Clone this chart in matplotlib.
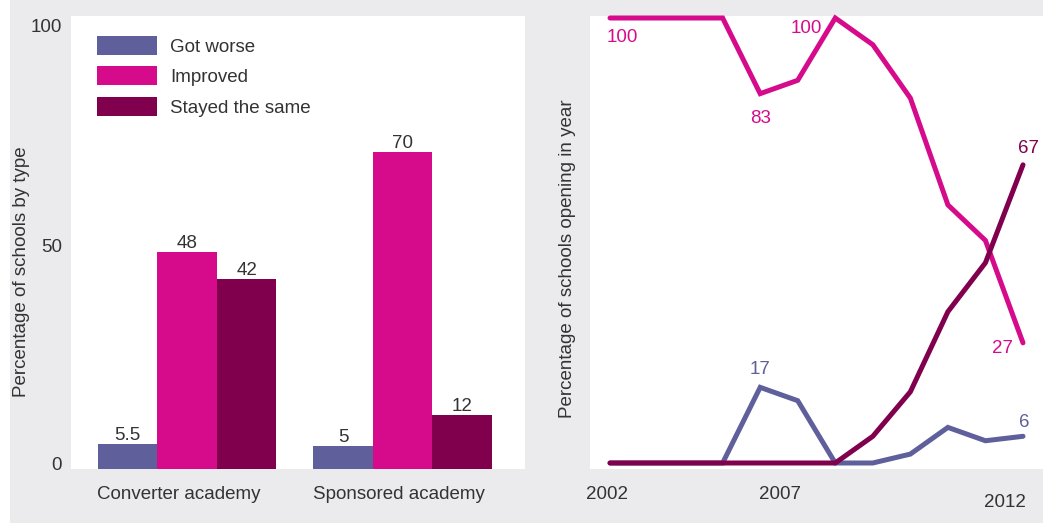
import matplotlib
matplotlib.use("Agg")
import matplotlib.pyplot as plt
from matplotlib.patches import Rectangle
import numpy as np

plt.rcParams["font.family"] = ["Liberation Sans", "DejaVu Sans"]

# ---- data -------------------------------------------------------------
categories = ["Converter academy", "Sponsored academy"]
series_names = ["Got worse", "Improved", "Stayed the same"]
got_worse = [5.5, 5]
improved = [48, 70]
stayed_same = [42, 12]

# share of schools opening in each year, by outcome
trend_worse = [0, 0, 0, 0, 17, 14, 0, 0, 2, 8, 5, 6]
trend_improved = [100, 100, 100, 100, 83, 86, 100, 94, 82, 58, 50, 27]
trend_same = [0, 0, 0, 0, 0, 0, 0, 6, 16, 34, 45, 67]
year_labels = ["2002", "2007", "2012"]

# ---- style ------------------------------------------------------------
C_WORSE = "#5f5f9b"
C_IMPROVED = "#d60b8c"
C_SAME = "#80004e"
COLORS = [C_WORSE, C_IMPROVED, C_SAME]
TEXT = "#333333"
BG = "#ebebed"
FS = 13.5

W, H = 1043, 523
fig = plt.figure(figsize=(W / 100, H / 100), dpi=100, facecolor=BG)


def fx(px):
    return px / W


def fy(py):
    return 1 - py / H


def ptext(px, py, s, **kw):
    kw.setdefault("fontsize", FS)
    kw.setdefault("color", TEXT)
    return fig.text(fx(px), fy(py), s, **kw)


# thin white strip on the far left
fig.add_artist(Rectangle((0, 0), fx(10), 1, transform=fig.transFigure,
                         facecolor="white", edgecolor="none", zorder=-5))

# ---- left: bar chart --------------------------------------------------
ax1 = fig.add_axes([fx(71), fy(469), 454 / W, 453 / H])
ax1.set_facecolor("white")
for s in ax1.spines.values():
    s.set_visible(False)
ax1.set_xticks([])
ax1.set_yticks([])

x = np.arange(len(categories))
w = 0.2764
for i, (vals, col) in enumerate(zip([got_worse, improved, stayed_same], COLORS)):
    bars = ax1.bar(x + (i - 1) * w, vals, w, color=col, linewidth=0)
    ax1.bar_label(bars, labels=[f"{v:g}" for v in vals], padding=0,
                  fontsize=FS, color=TEXT)
ax1.set_xlim(-0.540, 1.569)
ax1.set_ylim(0, 100)

# y tick labels
for val, base in [("0", 470), ("50", 252), ("100", 32)]:
    ptext(62, base, val, ha="right", va="baseline")

# category labels
for name, cx in zip(categories, [179, 399]):
    ptext(cx, 499, name, ha="center", va="baseline")

ptext(22, 272, "Percentage of schools by type", rotation=90,
      ha="center", va="center")

# legend
for k, (name, col) in enumerate(zip(series_names, COLORS)):
    top = [36, 66, 97][k]
    fig.add_artist(Rectangle((fx(97), fy(top + 19)), 60 / W, 19 / H,
                             transform=fig.transFigure, facecolor=col,
                             edgecolor="none"))
    ptext(170, top + 9.5 + 6.7, name, ha="left", va="baseline")

# ---- right: line chart ------------------------------------------------
ax2 = fig.add_axes([fx(590), fy(469), 453 / W, 453 / H])
ax2.set_facecolor("white")
for s in ax2.spines.values():
    s.set_visible(False)
ax2.set_xticks([])
ax2.set_yticks([])

idx = np.arange(len(trend_improved))
for series, col in [(trend_worse, C_WORSE), (trend_improved, C_IMPROVED),
                    (trend_same, C_SAME)]:
    ax2.plot(idx, series, color=col, linewidth=3.6, solid_capstyle="round",
             solid_joinstyle="miter", clip_on=False)
ax2.set_xlim(-0.533, 11.533)
ax2.set_ylim(-1.35, 100.45)

# value callouts: (series, point, offset in pixels)
callouts = [
    (trend_improved, 0, 12, -23.7, C_IMPROVED),
    (trend_improved, 4, 0, -29, C_IMPROVED),
    (trend_improved, 6, -29, -14.7, C_IMPROVED),
    (trend_improved, 11, -20, -9.7, C_IMPROVED),
    (trend_same, 11, 6, 12.3, C_SAME),
    (trend_worse, 4, 0, 13.3, C_WORSE),
    (trend_worse, 11, 1, 9, C_WORSE),
]
for series, i, dx, dy, col in callouts:
    ax2.annotate(f"{series[i]:g}", (idx[i], series[i]), xytext=(dx, dy),
                 textcoords="offset pixels", ha="center", va="baseline",
                 fontsize=FS, color=col, annotation_clip=False)

# year labels
for lab, cx, base in zip(year_labels, [607, 780.5, 1005], [499, 499, 507]):
    ptext(cx, base, lab, ha="center", va="baseline")

ptext(567, 259, "Percentage of schools opening in year", rotation=90,
      ha="center", va="center")

fig.savefig("out.png", dpi=100, facecolor=BG)
